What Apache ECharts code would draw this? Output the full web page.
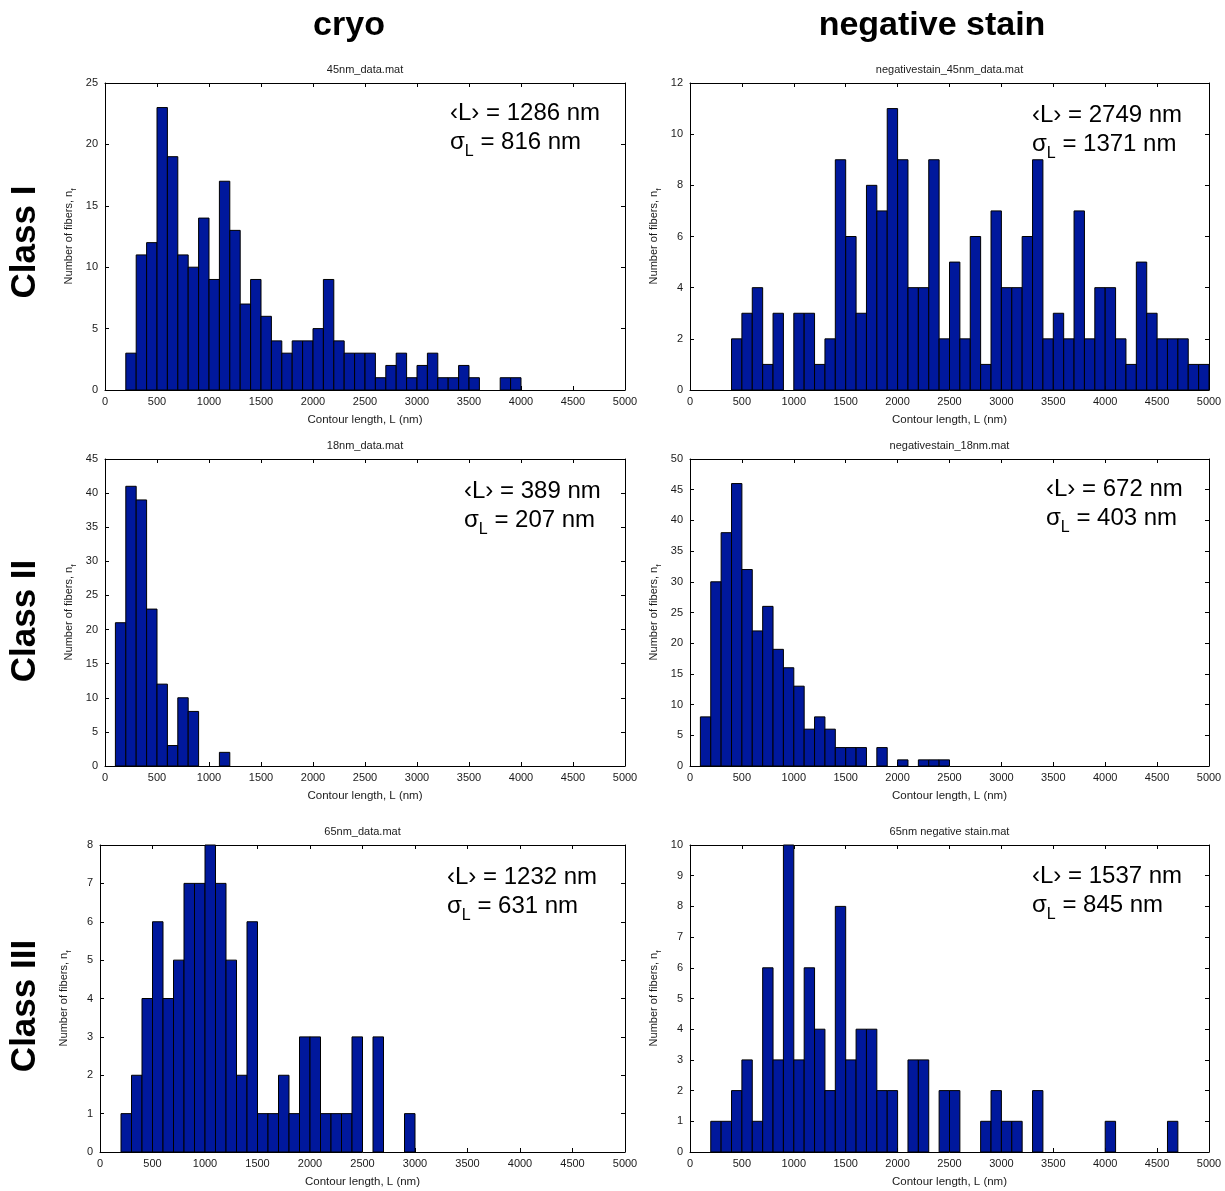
<!DOCTYPE html>
<html>
<head>
<meta charset="utf-8">
<title>Contour length histograms</title>
<script src="https://cdn.jsdelivr.net/npm/echarts@6/dist/echarts.min.js"></script>
<style>
  html, body { margin: 0; padding: 0; background: #fff; }
  #main { width: 1225px; height: 1191px; }
</style>
</head>
<body>
<div id="main"></div>
<script>
// histogram bins: 100 nm wide, starting at 0 nm (50 bins up to 5000 nm)
var binWidth = 100;
var xTicks = [0, 5000, 500];

var cryoClassI = [0,0,3,11,12,23,19,11,10,14, 9,17,13,7,9,6,4,3,4,4, 5,9,4,3,3,3,1,2,3,1, 2,3,1,1,2,1,0,0,1,1, 0,0,0,0,0,0,0,0,0,0];
var negClassI  = [0,0,0,0,2,3,4,1,3,0, 3,3,1,2,9,6,3,8,7,11, 9,4,4,9,2,5,2,6,1,7, 4,4,6,9,2,3,2,7,2,4, 4,2,1,5,3,2,2,2,1,1];
var cryoClassII = [0,21,41,39,23,12,3,10,8,0, 0,2,0,0,0,0,0,0,0,0, 0,0,0,0,0,0,0,0,0,0, 0,0,0,0,0,0,0,0,0,0, 0,0,0,0,0,0,0,0,0,0];
var negClassII  = [0,8,30,38,46,32,22,26,19,16, 13,6,8,6,3,3,3,0,3,0, 1,0,1,1,1,0,0,0,0,0, 0,0,0,0,0,0,0,0,0,0, 0,0,0,0,0,0,0,0,0,0];
var cryoClassIII = [0,0,1,2,4,6,4,5,7,7, 8,7,5,2,6,1,1,2,1,3, 3,1,1,1,3,0,3,0,0,1, 0,0,0,0,0,0,0,0,0,0, 0,0,0,0,0,0,0,0,0,0];
var negClassIII  = [0,0,1,1,2,3,1,6,3,10, 3,6,4,2,8,3,4,4,2,2, 0,3,3,0,2,2,0,0,1,2, 1,1,0,2,0,0,0,0,0,0, 1,0,0,0,0,0,1,0,0,0];

// y axis [max, interval] per panel
var yScales = [[25, 5], [12, 2], [45, 5], [50, 5], [8, 1], [10, 1]];
var fileNames = ['45nm_data.mat', 'negativestain_45nm_data.mat', '18nm_data.mat',
                 'negativestain_18nm.mat', '65nm_data.mat', '65nm negative stain.mat'];
// mean / std of contour length (nm)
var meanL = [1286, 2749, 389, 672, 1232, 1537];
var sigmaL = [816, 1371, 207, 403, 631, 845];

var counts = [cryoClassI, negClassI, cryoClassII, negClassII, cryoClassIII, negClassIII];

var barColor = '#00189c';
var font = 'Liberation Sans, Arial, sans-serif';
var labelColor = '#1a1a1a';

// panel boxes: left, top, width, height
var boxes = [
    [105, 83, 520, 307], [690, 83, 519, 307],
    [105, 459, 520, 307], [690, 459, 519, 307],
    [100, 845, 525, 307], [690, 845, 519, 307]
];
// where the stats text sits: left x, centre of first line
var statsPos = [[450, 113], [1032, 115], [464, 491], [1046, 489], [447, 877], [1032, 876]];

function renderBar(params, api) {
    var n = api.value(1);
    if (!n) return null;
    var x0 = api.value(0);
    var p0 = api.coord([x0, 0]);
    var p1 = api.coord([x0 + binWidth, n]);
    return {
        type: 'rect',
        shape: { x: p0[0], y: p1[1], width: p1[0] - p0[0], height: p0[1] - p1[1] },
        style: { fill: barColor, stroke: '#000', lineWidth: 1 }
    };
}

function plain(v) { return String(v); }

var grid = [], xAxis = [], yAxis = [], series = [], graphic = [];

boxes.forEach(function (b, i) {
    grid.push({ left: b[0], top: b[1], width: b[2], height: b[3] });

    var axisLine = { show: true, onZero: false, lineStyle: { color: '#000', width: 1 } };
    var axisTick = { show: true, inside: true, length: 4, lineStyle: { color: '#000' } };

    xAxis.push({
        gridIndex: i, type: 'value', min: xTicks[0], max: xTicks[1], interval: xTicks[2],
        axisLine: axisLine, axisTick: axisTick, splitLine: { show: false },
        axisLabel: { fontSize: 11, color: labelColor, fontFamily: font, margin: 6, formatter: plain },
        name: 'Contour length, L (nm)', nameLocation: 'middle', nameGap: 24,
        nameTextStyle: { fontSize: 11.5, color: labelColor, fontFamily: font }
    });
    xAxis.push({
        gridIndex: i, type: 'value', position: 'top', min: xTicks[0], max: xTicks[1], interval: xTicks[2],
        axisLine: axisLine, axisTick: axisTick, splitLine: { show: false }, axisLabel: { show: false }
    });
    yAxis.push({
        gridIndex: i, type: 'value', min: 0, max: yScales[i][0], interval: yScales[i][1],
        axisLine: axisLine, axisTick: axisTick, splitLine: { show: false },
        axisLabel: { fontSize: 11, color: labelColor, fontFamily: font, margin: 7, formatter: plain },
        name: '{a|Number of fibers, n}{b|f}', nameLocation: 'middle', nameGap: 30,
        nameTextStyle: {
            color: labelColor, fontFamily: font,
            rich: {
                a: { fontSize: 11, lineHeight: 12, verticalAlign: 'top', fontFamily: font, color: labelColor },
                b: { fontSize: 8, lineHeight: 8, padding: [7, 0, 0, 0], verticalAlign: 'top', fontFamily: font, color: labelColor }
            }
        }
    });
    yAxis.push({
        gridIndex: i, type: 'value', position: 'right', min: 0, max: yScales[i][0], interval: yScales[i][1],
        axisLine: axisLine, axisTick: axisTick, splitLine: { show: false }, axisLabel: { show: false }
    });

    series.push({
        type: 'custom',
        xAxisIndex: 2 * i,
        yAxisIndex: 2 * i,
        renderItem: renderBar,
        encode: { x: 0, y: 1 },
        data: counts[i].map(function (n, k) { return [k * binWidth, n]; })
    });

    // small file-name title above each panel
    graphic.push({
        type: 'text', x: b[0] + b[2] / 2, y: b[1] - 13,
        style: { text: fileNames[i], font: '11px ' + font, fill: labelColor, align: 'center', verticalAlign: 'middle' }
    });

    // stats annotation
    var sp = statsPos[i];
    graphic.push({
        type: 'text', x: sp[0], y: sp[1],
        style: { text: '\u2039L\u203a = ' + meanL[i] + ' nm', font: '24px ' + font, fill: '#000', align: 'left', verticalAlign: 'middle' }
    });
    graphic.push({
        type: 'text', x: sp[0], y: sp[1] + 29 - 12,
        style: {
            text: '{m|\u03c3}{s|L}{m| = ' + sigmaL[i] + ' nm}',
            align: 'left', verticalAlign: 'top',
            rich: {
                m: { fontSize: 24, lineHeight: 24, verticalAlign: 'top', fontFamily: font, fill: '#000' },
                s: { fontSize: 16, lineHeight: 16, padding: [14, 0, 0, 0], verticalAlign: 'top', fontFamily: font, fill: '#000' }
            }
        }
    });
});

// column headers
graphic.push({ type: 'text', x: 349, y: 26, style: { text: 'cryo', font: 'bold 34px ' + font, fill: '#000', align: 'center', verticalAlign: 'middle' } });
graphic.push({ type: 'text', x: 932, y: 26, style: { text: 'negative stain', font: 'bold 34px ' + font, fill: '#000', align: 'center', verticalAlign: 'middle' } });

// row labels
var rowLabels = [['Class I', 242], ['Class II', 621], ['Class III', 1006]];
rowLabels.forEach(function (r) {
    graphic.push({
        type: 'text', x: 25, y: r[1], rotation: Math.PI / 2,
        style: { text: r[0], font: 'bold 35px ' + font, fill: '#000', align: 'center', verticalAlign: 'middle' }
    });
});

var chart = echarts.init(document.getElementById('main'));
chart.setOption({
    animation: false,
    backgroundColor: '#fff',
    grid: grid,
    xAxis: xAxis,
    yAxis: yAxis,
    series: series,
    graphic: graphic
});
</script>
</body>
</html>
